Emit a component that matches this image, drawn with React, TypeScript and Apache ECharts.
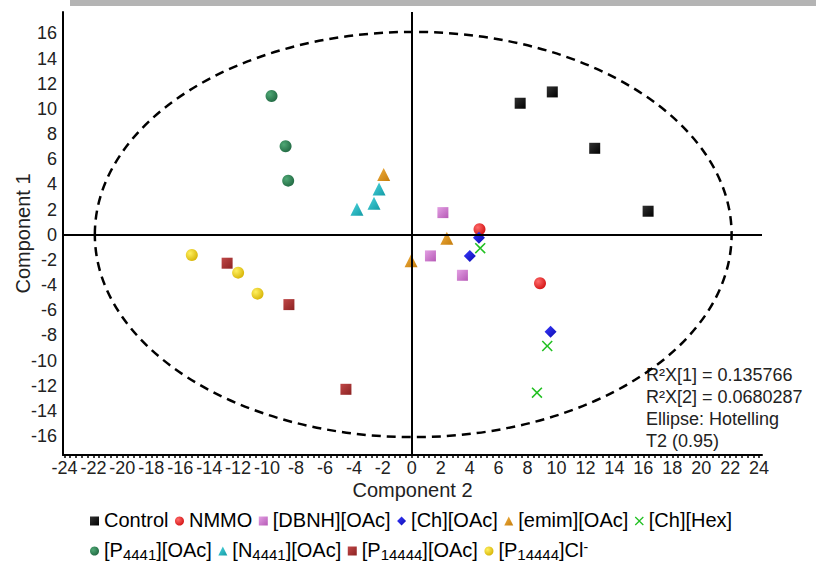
import React, { useEffect, useRef } from 'react';
import * as echarts from 'echarts';

// ---- data ----
const NAMES = ['Control', 'NMMO', '[DBNH][OAc]', '[Ch][OAc]', '[emim][OAc]', '[Ch][Hex]', '[P4441][OAc]', '[N4441][OAc]', '[P14444][OAc]', '[P14444]Cl-'];
const CONTROL = [[7.49, 10.45], [9.71, 11.35], [12.64, 6.87], [16.33, 1.87]];
const NMMO = [[4.68, 0.44], [8.86, -3.85]];
const DBNH_OAC = [[2.15, 1.76], [1.29, -1.68], [3.5, -3.22]];
const CH_OAC = [[4.64, -0.23], [4.01, -1.68], [9.59, -7.7]];
const EMIM_OAC = [[-1.94, 4.78], [2.42, -0.28], [-0.05, -2.06]];
const CH_HEX = [[4.73, -1.07], [9.36, -8.84], [8.65, -12.55]];
const P4441_OAC = [[-9.69, 11.03], [-8.72, 7.03], [-8.54, 4.3]];
const N4441_OAC = [[-2.26, 3.64], [-2.61, 2.5], [-3.79, 2.03]];
const P14444_OAC = [[-12.76, -2.26], [-8.49, -5.55], [-4.55, -12.28]];
const P14444_CL = [[-15.2, -1.61], [-12.0, -3.01], [-10.66, -4.68]];

const X_TICKS = [-24, -22, -20, -18, -16, -14, -12, -10, -8, -6, -4, -2, 0, 2, 4, 6, 8, 10, 12, 14, 16, 18, 20, 22, 24];
const Y_TICKS = [-16, -14, -12, -10, -8, -6, -4, -2, 0, 2, 4, 6, 8, 10, 12, 14, 16];
const X_NAME = 'Component 2';
const Y_NAME = 'Component 1';
const ANNOTATION = ['R²X[1] = 0.135766', 'R²X[2] = 0.0680287', 'Ellipse: Hotelling', 'T2 (0.95)'];
// Hotelling ellipse: centre x, centre y, semi-axis x, semi-axis y
const ELLIPSE = [[0.1, 0.02, 22.0, 16.1]];

const LEGEND_LABELS: Record<string, string> = {
  'Control': '{t|Control}',
  'NMMO': '{t|NMMO}',
  '[DBNH][OAc]': '{t|[DBNH][OAc]}',
  '[Ch][OAc]': '{t|[Ch][OAc]}',
  '[emim][OAc]': '{t|[emim][OAc]}',
  '[Ch][Hex]': '{t|[Ch][Hex]}',
  '[P4441][OAc]': '{t|[P}{sub|4441}{t|][OAc]}',
  '[N4441][OAc]': '{t|[N}{sub|4441}{t|][OAc]}',
  '[P14444][OAc]': '{t|[P}{sub|14444}{t|][OAc]}',
  '[P14444]Cl-': '{t|[P}{sub|14444}{t|]Cl}{sup|-}',
};

const FONT = '"Liberation Sans", Arial, sans-serif';
const X_PATH = 'path://M1,0 L5,4 L9,0 L10,1 L6,5 L10,9 L9,10 L5,6 L1,10 L0,9 L4,5 L0,1 Z';

const radial = (light: string, dark: string) => ({
  type: 'radial', x: 0.35, y: 0.35, r: 0.75,
  colorStops: [{ offset: 0, color: light }, { offset: 1, color: dark }],
});
const linear = (light: string, dark: string) => ({
  type: 'linear', x: 0, y: 0, x2: 1, y2: 1,
  colorStops: [{ offset: 0, color: light }, { offset: 1, color: dark }],
});

const STYLES = [
  { data: CONTROL, symbol: 'rect', size: 11, color: linear('#333333', '#000000') },
  { data: NMMO, symbol: 'circle', size: 12, color: radial('#ff6a6a', '#d10f0f') },
  { data: DBNH_OAC, symbol: 'rect', size: 11, color: linear('#e3a0e3', '#b659b6') },
  { data: CH_OAC, symbol: 'diamond', size: 12, color: linear('#3a3aff', '#0b0bb0') },
  { data: EMIM_OAC, symbol: 'triangle', size: 13, color: linear('#f2b040', '#c47c0c') },
  { data: CH_HEX, symbol: X_PATH, size: 11, color: '#22c022' },
  { data: P4441_OAC, symbol: 'circle', size: 12, color: radial('#4fa875', '#1f6640') },
  { data: N4441_OAC, symbol: 'triangle', size: 13, color: linear('#4cd6df', '#129aa4') },
  { data: P14444_OAC, symbol: 'rect', size: 11, color: linear('#c04848', '#8c2222') },
  { data: P14444_CL, symbol: 'circle', size: 12, color: radial('#fff060', '#d4b000') },
];

export default function App() {
  const ref = useRef<HTMLDivElement>(null);
  useEffect(() => {
    if (!ref.current) return;
    const chart = echarts.init(ref.current, undefined, { renderer: 'svg' });

    const scatter = STYLES.map((s, i) => ({
      name: NAMES[i],
      type: 'scatter',
      data: s.data,
      symbol: s.symbol,
      symbolSize: s.size,
      itemStyle: { color: s.color, opacity: 1 },
      z: 4,
    }));

    const legendCommon = {
      orient: 'horizontal',
      left: 90,
      itemWidth: 9,
      itemHeight: 9,
      itemGap: 6.5,
      padding: 0,
      formatter: (n: string) => LEGEND_LABELS[n] || n,
      textStyle: {
        color: '#000',
        fontFamily: FONT,
        rich: {
          t: { fontSize: 20, lineHeight: 22, verticalAlign: 'top', fontFamily: FONT, color: '#000' },
          sub: { fontSize: 15, lineHeight: 14, padding: [11, 0, 0, 0], verticalAlign: 'bottom', fontFamily: FONT, color: '#000' },
          sup: { fontSize: 14, lineHeight: 13, verticalAlign: 'top', fontFamily: FONT, color: '#000' },
        },
      },
    };

    chart.setOption({
      animation: false,
      backgroundColor: '#fff',
      grid: { left: 63, right: 54, top: 12, bottom: 107, containLabel: false, outerBoundsMode: 'none' },
      xAxis: {
        type: 'value',
        min: -24.1,
        max: 24.2,
        minInterval: 2,
        maxInterval: 2,
        name: X_NAME,
        nameLocation: 'middle',
        nameGap: 25,
        nameMoveOverlap: false,
        nameTextStyle: { fontSize: 20, fontFamily: FONT, color: '#222' },
        axisLine: { show: true, onZero: false, lineStyle: { color: '#000', width: 2 } },
        axisTick: { show: true, customValues: X_TICKS, length: 3, lineStyle: { color: '#000', width: 1.5 } },
        minorTick: { show: true, splitNumber: 5, length: 3, lineStyle: { color: '#000', width: 1.5 } },
        axisLabel: { customValues: X_TICKS, fontSize: 18, fontFamily: FONT, color: '#222', margin: 4 },
        splitLine: { show: false },
      },
      yAxis: {
        type: 'value',
        min: -17.5,
        max: 17.7,
        name: Y_NAME,
        nameLocation: 'middle',
        nameGap: 30,
        nameMoveOverlap: false,
        nameTextStyle: { fontSize: 20, fontFamily: FONT, color: '#222' },
        axisLine: { show: true, onZero: false, lineStyle: { color: '#000', width: 2 } },
        axisTick: { show: false },
        axisLabel: { customValues: Y_TICKS, fontSize: 18, fontFamily: FONT, color: '#222', margin: 6 },
        splitLine: { show: false },
      },
      legend: [
        { ...legendCommon, top: 510, data: NAMES.slice(0, 6) },
        { ...legendCommon, top: 536, data: NAMES.slice(6) },
      ],
      graphic: [
        { type: 'rect', left: 70, top: 0, shape: { width: 746, height: 6 }, style: { fill: '#b4b4b4' }, silent: true },
        {
          type: 'text', left: 646, top: 364, silent: true,
          style: { text: ANNOTATION.join('\n'), fontSize: 18, lineHeight: 22, fontFamily: FONT, fill: '#222' },
        },
      ],
      series: [
        {
          type: 'custom',
          name: 'ellipse',
          data: ELLIPSE,
          z: 1,
          silent: true,
          renderItem: (params: any, api: any) => {
            const cx = api.value(0), cy = api.value(1), rx = api.value(2), ry = api.value(3);
            const c = api.coord([cx, cy]);
            const e = api.coord([cx + rx, cy + ry]);
            return {
              type: 'ellipse',
              shape: { cx: c[0], cy: c[1], rx: Math.abs(e[0] - c[0]), ry: Math.abs(c[1] - e[1]) },
              style: { fill: 'none', stroke: '#000', lineWidth: 2.5, lineDash: [9, 6] },
            };
          },
          markLine: {
            silent: true,
            symbol: ['none', 'none'],
            label: { show: false },
            lineStyle: { color: '#000', width: 2, type: 'solid' },
            data: [{ xAxis: 0 }, { yAxis: 0 }],
          },
        },
        ...scatter,
      ],
    });
    return () => chart.dispose();
  }, []);
  return <div ref={ref} style={{ position: 'fixed', left: 0, top: 0, width: 816, height: 562 }} />;
}
